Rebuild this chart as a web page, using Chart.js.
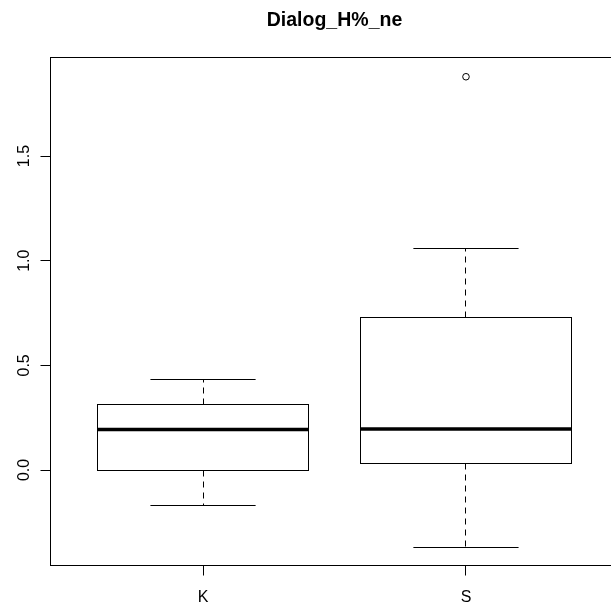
<!DOCTYPE html>
<html>
<head>
<meta charset="utf-8">
<script src="https://cdn.jsdelivr.net/npm/chart.js@4.4.1/dist/chart.umd.min.js"></script>
<style>
  html, body { margin: 0; padding: 0; background: #ffffff; overflow: hidden; width: 611px; height: 605px; }
  #wrap { position: relative; width: 625px; height: 605px; }
  canvas { display: block; }
</style>
</head>
<body>
<div id="wrap"><canvas id="c" width="625" height="605"></canvas></div>
<script>
// ---- data ----
const title = "Dialog_H%_ne";
const categories = ["K", "S"];
const whiskerLow  = [-0.172, -0.368];
const q1          = [-0.003,  0.033];
const median      = [ 0.194,  0.196];
const q3          = [ 0.315,  0.728];
const whiskerHigh = [ 0.433,  1.059];
const outliers    = [[], [1.879]];
const yTickValues = [0, 0.5, 1.0, 1.5];
const yTickLabels = ["0.0", "0.5", "1.0", "1.5"];

// ---- build datasets ----
const outlierPoints = [];
outliers.forEach((arr, i) => arr.forEach(v => outlierPoints.push({ x: i + 1, y: v })));

const crisp = v => Math.round(v - 0.5) + 0.5;

const boxPlugin = {
  id: 'rboxplot',
  beforeDatasetsDraw(chart) {
    const ctx = chart.ctx;
    const xs = chart.scales.x, ys = chart.scales.y;
    const boxHalf = 0.4, capHalf = 0.2;
    ctx.save();
    ctx.strokeStyle = '#000';
    ctx.lineWidth = 1;
    categories.forEach((cat, i) => {
      const xc = xs.getPixelForValue(i + 1);
      const xl = crisp(xs.getPixelForValue(i + 1 - boxHalf));
      const xr = crisp(xs.getPixelForValue(i + 1 + boxHalf));
      const cl = xs.getPixelForValue(i + 1 - capHalf);
      const cr = xs.getPixelForValue(i + 1 + capHalf);
      const yQ1 = crisp(ys.getPixelForValue(q1[i]));
      const yQ3 = crisp(ys.getPixelForValue(q3[i]));
      const yMed = ys.getPixelForValue(median[i]);
      const yLo = crisp(ys.getPixelForValue(whiskerLow[i]));
      const yHi = crisp(ys.getPixelForValue(whiskerHigh[i]));
      const xcc = crisp(xc);
      // dashed whiskers
      ctx.setLineDash([6, 5]);
      ctx.beginPath();
      ctx.moveTo(xcc, yQ3); ctx.lineTo(xcc, yHi);
      ctx.moveTo(xcc, yQ1); ctx.lineTo(xcc, yLo);
      ctx.stroke();
      ctx.setLineDash([]);
      // caps
      ctx.beginPath();
      ctx.moveTo(cl, yHi); ctx.lineTo(cr, yHi);
      ctx.moveTo(cl, yLo); ctx.lineTo(cr, yLo);
      ctx.stroke();
      // box
      ctx.strokeRect(xl, yQ3, xr - xl, yQ1 - yQ3);
      // median
      ctx.lineWidth = 3.5;
      ctx.beginPath();
      ctx.moveTo(xl, yMed); ctx.lineTo(xr, yMed);
      ctx.stroke();
      ctx.lineWidth = 1;
    });
    ctx.restore();
  },
  afterDraw(chart) {
    const ctx = chart.ctx;
    const xs = chart.scales.x, ys = chart.scales.y;
    const a = chart.chartArea;
    ctx.save();
    ctx.strokeStyle = '#000';
    ctx.fillStyle = '#000';
    ctx.lineWidth = 1;
    // frame
    ctx.strokeRect(a.left, a.top, a.right - a.left, a.bottom - a.top);
    // y ticks
    ctx.font = '16px "Liberation Sans", Arial, sans-serif';
    yTickValues.forEach((v, k) => {
      const y = crisp(ys.getPixelForValue(v));
      ctx.beginPath();
      ctx.moveTo(a.left, y); ctx.lineTo(a.left - 10, y);
      ctx.stroke();
      ctx.save();
      ctx.translate(28.5, ys.getPixelForValue(v));
      ctx.rotate(-Math.PI / 2);
      ctx.textAlign = 'center';
      ctx.textBaseline = 'alphabetic';
      ctx.fillText(yTickLabels[k], 0, 0);
      ctx.restore();
    });
    // x ticks
    categories.forEach((cat, i) => {
      const x = crisp(xs.getPixelForValue(i + 1));
      ctx.beginPath();
      ctx.moveTo(x, a.bottom); ctx.lineTo(x, a.bottom + 10);
      ctx.stroke();
      ctx.textAlign = 'center';
      ctx.textBaseline = 'alphabetic';
      ctx.fillText(cat, xs.getPixelForValue(i + 1), 601.5);
    });
    // title
    ctx.font = 'bold 19.5px "Liberation Sans", Arial, sans-serif';
    ctx.textAlign = 'center';
    ctx.fillText(title, (a.left + a.right) / 2, 25.5);
    ctx.restore();
  }
};

new Chart(document.getElementById('c'), {
  type: 'scatter',
  data: {
    datasets: [{
      label: 'outliers',
      data: outlierPoints,
      pointStyle: 'circle',
      pointRadius: 3.3,
      pointBorderWidth: 1,
      pointBorderColor: '#000',
      pointBackgroundColor: 'rgba(0,0,0,0)'
    }]
  },
  options: {
    responsive: false,
    devicePixelRatio: 1,
    animation: false,
    layout: { padding: { left: 50.5, right: 6.5, top: 57.5, bottom: 39.5 } },
    plugins: { legend: { display: false }, tooltip: { enabled: false }, title: { display: false } },
    scales: {
      x: { type: 'linear', min: 0.42, max: 2.58, display: false },
      y: { type: 'linear', min: -0.4563, max: 1.971, display: false }
    }
  },
  plugins: [boxPlugin]
});
</script>
</body>
</html>
